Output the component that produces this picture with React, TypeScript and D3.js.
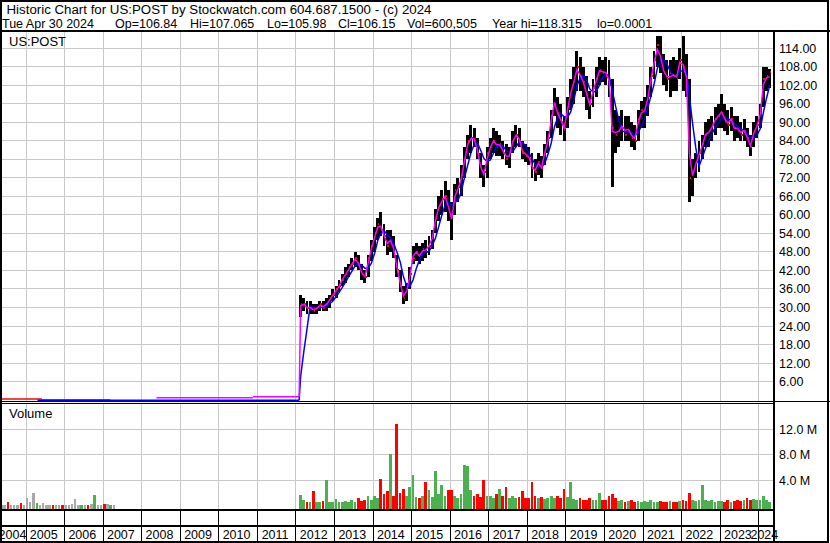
import React from 'react';
import * as d3 from 'd3';

// monthly bars from Feb 2012 to Apr 2024
const firstMonth = new Date(2012, 1, 1);

const closes = [
  31, 31, 30, 30, 29, 30, 31, 30, 31, 33, 34, // 2012
  36, 37, 39, 41, 43, 44, 46, 44, 41, 40, 46, 50, // 2013
  54, 57, 55, 53, 50, 52, 48, 42, 37, 33, 36, 41, // 2014
  46, 48, 46, 49, 48, 50, 53, 59, 63, 65, 66, 62, // 2015
  60, 68, 69, 73, 78, 84, 85, 84, 80, 75, 74, 80, // 2016
  82, 84, 82, 83, 80, 78, 80, 84, 86, 84, 80, 79, // 2017
  78, 75, 74, 77, 75, 81, 85, 92, 96, 93, 90, 88, // 2018
  95, 100, 104, 108, 105, 103, 99, 96, 101, 104, 107, 106, // 2019
  105, 102, 88, 86, 87, 88, 86, 87, 85, 84, 91, 94, // 2020
  95, 99, 105, 110, 115, 110, 106, 104, 106, 105, 104, 110, // 2021
  108, 104, 72, 74, 77, 80, 83, 86, 87, 89, 91, 92, // 2022
  93, 90, 89, 91, 88, 87, 86, 87, 85, 82, 87, 89, // 2023
  93, 104, 105, 106.15, // 2024
];

const highs = [
  34, 33, 32, 32, 31, 31, 32, 32, 33, 34, 36,
  37, 39, 41, 43, 44, 46, 48, 47, 44, 42, 47, 52,
  56, 59, 61, 57, 55, 55, 53, 47, 42, 37, 38, 43,
  50, 51, 50, 51, 52, 53, 55, 62, 66, 68, 71, 68,
  64, 70, 72, 76, 82, 86, 89, 88, 85, 80, 76, 82,
  85, 88, 87, 86, 84, 83, 82, 87, 89, 88, 84, 83,
  82, 80, 78, 80, 79, 83, 87, 94, 101, 98, 96, 92,
  98, 104, 108, 113, 111, 108, 105, 100, 104, 108, 111, 110,
  111, 110, 104, 94, 92, 94, 92, 92, 90, 89, 94, 97,
  98, 102, 108, 113, 118, 118, 112, 110, 110, 111, 110, 114,
  118, 112, 104, 78, 80, 84, 86, 90, 91, 92, 95, 96,
  99, 96, 94, 95, 92, 92, 90, 91, 88, 86, 90, 92,
  96, 108, 108, 107.065,
];

const lows = [
  27, 29, 28, 28, 28, 28, 29, 29, 29, 30, 32,
  33, 35, 37, 38, 40, 42, 43, 42, 39, 38, 40, 45,
  48, 52, 53, 50, 47, 48, 46, 40, 35, 31, 32, 36,
  44, 45, 44, 45, 46, 47, 49, 54, 58, 60, 61, 58,
  52, 60, 64, 66, 72, 78, 80, 82, 78, 72, 69, 72,
  78, 80, 79, 79, 78, 76, 75, 80, 82, 82, 78, 77,
  76, 72, 71, 73, 72, 76, 80, 85, 92, 88, 86, 84,
  88, 94, 96, 100, 100, 98, 94, 91, 95, 98, 102, 103,
  102, 98, 69, 80, 82, 84, 84, 84, 82, 81, 84, 88,
  88, 92, 98, 104, 108, 106, 102, 100, 98, 100, 100, 104,
  100, 98, 64, 66, 72, 74, 78, 82, 82, 84, 86, 88,
  88, 87, 86, 87, 84, 85, 84, 84, 82, 79, 82, 85,
  88, 95, 100, 101,
];

// millions of shares
const volumes = [
  1.7, 0.9, 0.6, 0.7, 2.3, 0.6, 0.7, 0.8, 4.0, 0.6, 0.7,
  1.1, 0.6, 0.7, 0.8, 0.6, 0.9, 0.7, 1.2, 0.8, 1.0, 1.6, 0.9,
  1.5, 1.2, 4.2, 1.8, 2.3, 8.1, 1.5, 12.8, 2.0, 2.6, 1.5, 3.0,
  4.8, 1.4, 1.2, 1.5, 3.8, 2.5, 1.4, 5.5, 1.8, 3.3, 1.5, 2.5,
  2.5, 1.6, 1.3, 1.8, 6.4, 6.2, 2.5, 1.5, 1.9, 1.4, 4.0, 1.6,
  1.5, 1.3, 1.8, 2.7, 1.6, 3.0, 1.2, 1.6, 1.3, 1.4, 2.3, 1.2,
  1.3, 3.7, 1.5, 1.2, 1.4, 1.1, 1.3, 1.5, 1.2, 1.6, 1.3, 2.7,
  1.4, 3.7, 1.1, 1.0, 1.2, 0.9, 1.0, 1.3, 0.9, 1.0, 2.1, 0.9,
  1.0, 1.6, 1.9, 1.2, 0.8, 0.9, 0.7, 0.8, 0.9, 0.7, 0.8, 0.7,
  0.8, 0.7, 0.9, 0.6, 0.7, 0.8, 0.6, 0.7, 0.8, 0.6, 0.7, 0.8,
  0.9, 0.8, 2.1, 1.0, 0.8, 0.9, 3.3, 0.9, 0.8, 0.9, 0.7, 0.8,
  0.8, 0.7, 0.9, 0.7, 0.8, 0.9, 0.8, 1.0, 1.2, 1.0, 1.1, 0.9,
  1.0, 1.5, 0.9, 0.7,
];

// old ticker history before the 2012 spin-off, price near zero
const legacyFirstMonth = new Date(2004, 4, 1);
const legacyVolumes = [
  0.15, 0.15, 0.7, 0.15, 0.15, 0.15, 0.5, 0.2,
  1.2, 0.6, 2.0, 0.4, 0.2, 0.4, 0.15, 0.15, 0.2, 0.15, 0.15, 0.2,
  0.15, 0.2, 0.25, 1.1, 0.15, 0.15, 0.15, 0.2, 0.3, 1.7, 0.15, 0.2,
  0.3, 0.35, 0.2, 0.1,
];
const legacyMoves = [
  'n', 'n', 'd', 'n', 'n', 'n', 'd', 'n',
  'n', 'n', 'n', 'u', 'n', 'n', 'n', 'n', 'd', 'n', 'n', 'd',
  'n', 'n', 'n', 'n', 'n', 'u', 'n', 'd', 'n', 'u', 'n', 'n',
  'd', 'n', 'u', 'n',
];
const legacyCloseSpans = [
  { from: '2004-05-15', to: '2005-06-01', value: 0.35 },
  { from: '2005-06-01', to: '2007-03-10', value: 0.1 },
];
const legacyShortAvgSpans = [
  { from: '2008-05-20', to: '2010-11-20', value: 0.8 },
  { from: '2010-11-20', to: '2012-02-01', value: 1.1 },
];
const legacyLongAvgSpans = [{ from: '2005-04-20', to: '2012-02-01', value: 0 }];

const priceTicks = [6, 12, 18, 24, 30, 36, 42, 48, 54, 60, 66, 72, 78, 84, 90, 96, 102, 108, 114];
const volumeTicks = [4, 8, 12];
const years = d3.range(2004, 2025);

const headerTitle = 'Historic Chart for US:POST by Stockwatch.com 604.687.1500 - (c) 2024';
const headerFields = ['Tue Apr 30 2024', 'Op=106.84', 'Hi=107.065', 'Lo=105.98', 'Cl=106.15', 'Vol=600,505', 'Year hi=118.315', 'lo=0.0001'];
const headerFieldX = [2, 115, 190, 267, 338, 407, 492, 597];

const longWindow = 4;

const FONT = '"Liberation Sans", Arial, sans-serif';
const GRID = '#c8c8c8';

function movingAverage(values: number[], n: number, pad: number) {
  return values.map((_, i) => {
    let s = 0;
    for (let k = i - n + 1; k <= i; k++) s += k >= 0 ? values[k] : pad;
    return s / n;
  });
}

export default function App() {
  const W = 830, H = 543;
  const plotL = 2, plotR = 773;
  const priceT = 32, priceB = 401, volT = 404, volB = 509;

  const x = d3.scaleTime()
    .domain([new Date(2005, 0, 1), new Date(2024, 0, 1)])
    .range([26, 758.7]);
  const yP = d3.scaleLinear().domain([0, 114]).range([400.2, 48]);
  const yV = d3.scaleLinear().domain([0, 12]).range([506, 429]);

  const months = closes.map((_, i) => d3.timeMonth.offset(firstMonth, i));
  const mid = (d: Date) => new Date(d.getFullYear(), d.getMonth(), 15);

  // short average: typical monthly price; long average: 4-month mean of closes
  const shortAvg = closes.map((c, i) => (highs[i] + lows[i] + c) / 3);
  const longAvg = movingAverage(closes, longWindow, 0);

  const line = d3.line<[Date, number]>().x(d => x(d[0])).y(d => yP(d[1]));
  const shortPts: [Date, number][] = [[firstMonth, 1.1], ...months.map((m, i) => [mid(m), shortAvg[i]] as [Date, number])];
  const longPts: [Date, number][] = [[firstMonth, 0], ...months.map((m, i) => [mid(m), longAvg[i]] as [Date, number])];

  const spanPath = (s: { from: string; to: string; value: number }) =>
    line([[new Date(s.from), s.value], [new Date(s.to), s.value]]);

  const volColor = (m: string) => (m === 'u' ? '#4caf50' : m === 'd' ? '#ff0000' : '#a8a8a8');

  const yearCells = years.map(yr => {
    const a = Math.max(plotL, x(new Date(yr, 0, 1)));
    const b = Math.min(plotR, x(new Date(yr + 1, 0, 1)));
    return { yr, a, b };
  });
  const yearLines = years.slice(1).map(yr => x(new Date(yr, 0, 1)));

  return (
    <svg width={W} height={H} style={{ position: 'absolute', left: 0, top: 0, background: '#fff' }} fontFamily={FONT}>
      <defs>
        <clipPath id="pclip"><rect x={plotL} y={priceT} width={plotR - plotL} height={priceB - priceT} /></clipPath>
        <clipPath id="vclip"><rect x={plotL} y={volT} width={plotR - plotL} height={volB - volT} /></clipPath>
        <clipPath id="lclip"><rect x={0} y={509} width={plotR + 8} height={34} /></clipPath>
      </defs>
      <rect x={0} y={0} width={W} height={H} fill="#fff" />

      {/* header */}
      <text x={6.5} y={13.5} fontSize={12.5} textLength={425} lengthAdjust="spacingAndGlyphs">{headerTitle}</text>
      {headerFields.map((f, i) => (
        <text key={'h' + i} x={headerFieldX[i]} y={27.5} fontSize={12.5}>{f}</text>
      ))}

      {/* grid */}
      <g stroke={GRID} strokeWidth={1} shapeRendering="crispEdges">
        {priceTicks.map(t => <line key={'p' + t} x1={plotL} x2={plotR} y1={yP(t)} y2={yP(t)} />)}
        {volumeTicks.map(t => <line key={'v' + t} x1={plotL} x2={plotR} y1={yV(t)} y2={yV(t)} />)}
        {yearLines.map((lx, i) => (
          <g key={'y' + i}>
            <line x1={lx} x2={lx} y1={priceT} y2={priceB} />
            <line x1={lx} x2={lx} y1={volT} y2={volB} />
          </g>
        ))}
      </g>

      {/* price */}
      <g clipPath="url(#pclip)">
        {legacyCloseSpans.map((s, i) => <path key={'lc' + i} d={spanPath(s) || ''} stroke="#ff0000" strokeWidth={1.5} fill="none" />)}
        {legacyLongAvgSpans.map((s, i) => <path key={'ll' + i} d={spanPath(s) || ''} stroke="#0000ff" strokeWidth={1.5} fill="none" />)}
        {legacyShortAvgSpans.map((s, i) => <path key={'ls' + i} d={spanPath(s) || ''} stroke="#ff00ff" strokeWidth={1.5} fill="none" />)}
        <g shapeRendering="crispEdges">
          {months.map((m, i) => {
            const x0 = x(m);
            const x1 = x(d3.timeMonth.offset(m, 1));
            return (
              <g key={'b' + i}>
                <rect x={x0} y={yP(highs[i])} width={Math.max(1, x1 - x0 - 0.3)} height={yP(lows[i]) - yP(highs[i])} fill="#000" />
                <rect x={x1 - 1.6} y={yP(closes[i]) - 1} width={1.6} height={2} fill="#ff0000" />
              </g>
            );
          })}
        </g>
        <path d={line(longPts) || ''} stroke="#0000ff" strokeWidth={1.5} fill="none" />
        <path d={line(shortPts) || ''} stroke="#ff00ff" strokeWidth={1.5} fill="none" />
      </g>

      {/* volume */}
      <g clipPath="url(#vclip)" shapeRendering="crispEdges">
        {legacyVolumes.map((v, i) => {
          const m = d3.timeMonth.offset(legacyFirstMonth, i);
          const x0 = x(m), x1 = x(d3.timeMonth.offset(m, 1));
          return <rect key={'lv' + i} x={x0} y={yV(v)} width={x1 - x0 - 0.8} height={volB - yV(v)} fill={volColor(legacyMoves[i])} />;
        })}
        {volumes.map((v, i) => {
          const m = months[i];
          const x0 = x(m), x1 = x(d3.timeMonth.offset(m, 1));
          const up = i === 0 || closes[i] >= closes[i - 1];
          return <rect key={'v' + i} x={x0} y={yV(v)} width={x1 - x0 - 0.5} height={volB - yV(v)} fill={volColor(up ? 'u' : 'd')} />;
        })}
      </g>

      {/* panel titles */}
      <text x={9} y={46} fontSize={13}>US:POST</text>
      <text x={9} y={418} fontSize={13}>Volume</text>

      {/* right axis */}
      {priceTicks.map(t => (
        <text key={'pt' + t} x={779} y={yP(t)} dy="0.36em" fontSize={12.5}>{t.toFixed(2)}</text>
      ))}
      {volumeTicks.map(t => (
        <text key={'vt' + t} x={779} y={yV(t)} dy="0.36em" fontSize={12.5}>{t.toFixed(1) + ' M'}</text>
      ))}

      {/* year band */}
      <g stroke="#000" strokeWidth={1} shapeRendering="crispEdges">
        {yearLines.map((lx, i) => <line key={'yl' + i} x1={lx} x2={lx} y1={509} y2={541} />)}
      </g>
      <g clipPath="url(#lclip)">
        {yearCells.map(c => (
          <text key={c.yr} x={(c.a + c.b) / 2 - 1.5} y={539} fontSize={12.5} textAnchor="middle">{c.yr}</text>
        ))}
      </g>

      {/* frame */}
      <g stroke="#000" fill="none" shapeRendering="crispEdges">
        <rect x={1} y={0.5} width={827} height={541.5} strokeWidth={2} />
        <line x1={0} x2={W} y1={31} y2={31} strokeWidth={2} />
        <line x1={plotR + 1} x2={plotR + 1} y1={31} y2={H} strokeWidth={2} />
        <line x1={0} x2={W} y1={401.5} y2={401.5} strokeWidth={1} />
        <line x1={0} x2={plotR} y1={403.5} y2={403.5} strokeWidth={1} />
        <line x1={0} x2={plotR} y1={509.5} y2={509.5} strokeWidth={2} />
        <line x1={0} x2={plotR} y1={526} y2={526} strokeWidth={2} />
      </g>
    </svg>
  );
}
